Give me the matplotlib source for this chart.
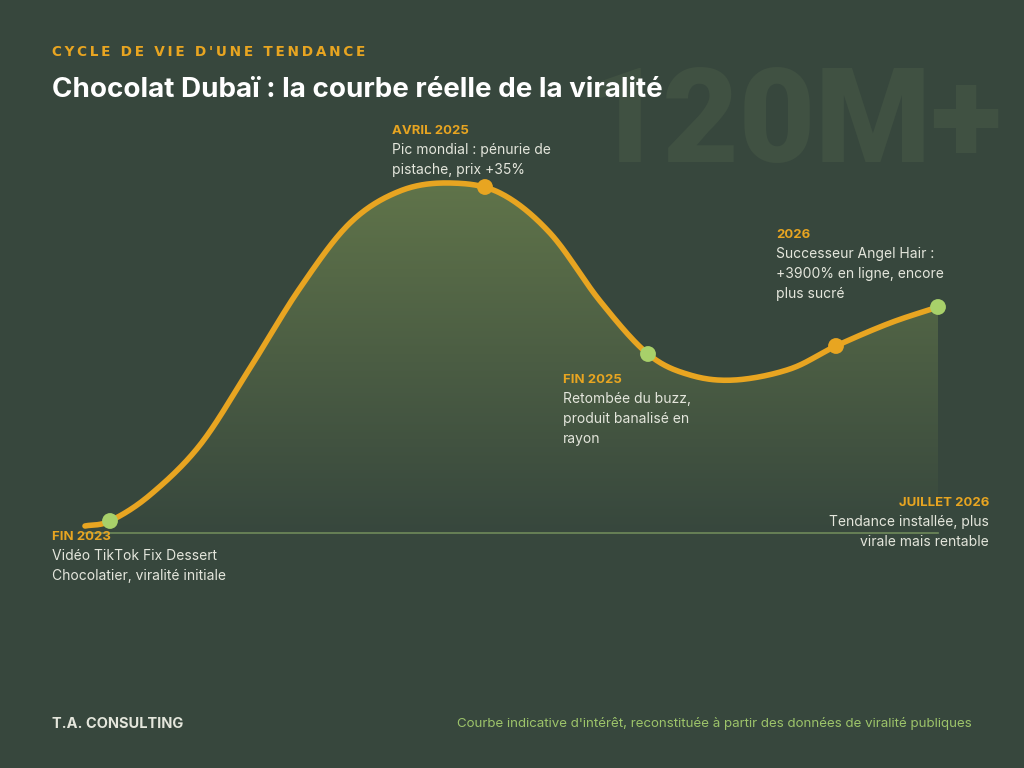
import numpy as np
import matplotlib.pyplot as plt
from matplotlib.path import Path
from matplotlib.patches import PathPatch

# position sur la frise (px-like units) et intérêt relatif
curve_x = [85, 110, 150, 200, 250, 300, 350, 400, 450, 500, 550, 600, 648, 690, 735, 790, 836, 890, 938]
curve_y = [7, 12, 38, 88, 165, 245, 310, 342, 350, 340, 300, 232, 179, 158, 153, 164, 187, 210, 226]

marker_x = [110, 485, 648, 836, 938]
marker_y = [12, 346, 179, 187, 226]
marker_c = ["#a8d06a", "#e8a521", "#a8d06a", "#e8a521", "#a8d06a"]

labels = [
    (52, 537, "FIN 2023", "Vidéo TikTok Fix Dessert\nChocolatier, viralité initiale", "left"),
    (392, 131, "AVRIL 2025", "Pic mondial : pénurie de\npistache, prix +35%", "left"),
    (563, 380, "FIN 2025", "Retombée du buzz,\nproduit banalisé en\nrayon", "left"),
    (776, 235, "2026", "Successeur Angel Hair :\n+3900% en ligne, encore\nplus sucré", "left"),
    (989, 503, "JUILLET 2026", "Tendance installée, plus\nvirale mais rentable", "right"),
]

BG = "#37473d"
ORANGE = "#e8a521"
TXT = "#e4e6dc"


def catmull(xs, ys, n=30):
    px, py = [], []
    xs = [2 * xs[0] - xs[1]] + xs + [2 * xs[-1] - xs[-2]]
    ys = [2 * ys[0] - ys[1]] + ys + [2 * ys[-1] - ys[-2]]
    for i in range(1, len(xs) - 2):
        t = np.linspace(0, 1, n, endpoint=False)
        for a, out in ((xs, px), (ys, py)):
            p0, p1, p2, p3 = a[i - 1], a[i], a[i + 1], a[i + 2]
            out.extend(0.5 * ((2 * p1) + (-p0 + p2) * t + (2 * p0 - 5 * p1 + 4 * p2 - p3) * t**2
                              + (-p0 + 3 * p1 - 3 * p2 + p3) * t**3))
    px.append(xs[-2]); py.append(ys[-2])
    return np.array(px), np.array(py)


fig = plt.figure(figsize=(10.24, 7.68), dpi=100, facecolor=BG)
ax = fig.add_axes([0, 0, 1, 1])
ax.set_facecolor(BG)
ax.axis("off")

sx, sy = catmull(curve_x, curve_y)

# watermark
ax.text(1002, 407, "120M+", ha="right", va="center", fontsize=95, fontweight="black",
        color="#405142", family="Roboto")

# gradient fill under curve
verts = [(sx[0], 0)] + list(zip(sx, sy)) + [(sx[-1], 0)]
patch = PathPatch(Path(verts), facecolor="none", edgecolor="none")
ax.add_patch(patch)
top = np.array([0x60, 0x74, 0x4a]) / 255
bot = np.array([0x37, 0x47, 0x3d]) / 255
g = np.linspace(0, 1, 256)[:, None]
img = top * (1 - g[..., None]) + bot * g[..., None]
img = np.repeat(img, 2, axis=1)
im = ax.imshow(img, extent=[sx[0], sx[-1], 0, 350], aspect="auto", zorder=1)
im.set_clip_path(patch)
ax.set_xlim(0, 1024)
ax.set_ylim(-235, 533)

ax.plot([85, 938], [0, 0], color="#6f8a5a", lw=1.2, zorder=2)
ax.plot(sx, sy, color=ORANGE, lw=4, zorder=3, solid_capstyle="round")
ax.scatter(marker_x, marker_y, s=130, c=marker_c, zorder=4, edgecolors="none")

for x, y, head, body, ha in labels:
    fig.text(x / 1024, 1 - y / 768, head, ha=ha, va="center", fontsize=9.5,
             fontweight="bold", color=ORANGE, family="Inter")
    fig.text(x / 1024, 1 - (y + 12) / 768, body, ha=ha, va="top", fontsize=10,
             color=TXT, family="Inter", linespacing=1.55)

fig.text(52 / 1024, 1 - 52 / 768, "\u2009".join("CYCLE DE VIE D'UNE TENDANCE"),
         fontsize=9.8, fontweight="bold", color=ORANGE, va="center",
         family=["DejaVu Sans"])
fig.text(52 / 1024, 1 - 90 / 768, "Chocolat Dubaï : la courbe réelle de la viralité",
         fontsize=20, fontweight="bold", color="white", va="center", family="Inter")
fig.text(52 / 1024, 1 - 724 / 768, "T.A. CONSULTING", fontsize=10.5, fontweight="bold",
         color=TXT, va="center", family="Inter")
fig.text(972 / 1024, 1 - 724 / 768,
         "Courbe indicative d'intérêt, reconstituée à partir des données de viralité publiques",
         fontsize=9.6, color="#9dc46a", va="center", ha="right", family="Inter")

fig.savefig("out.png", dpi=100, facecolor=BG)
